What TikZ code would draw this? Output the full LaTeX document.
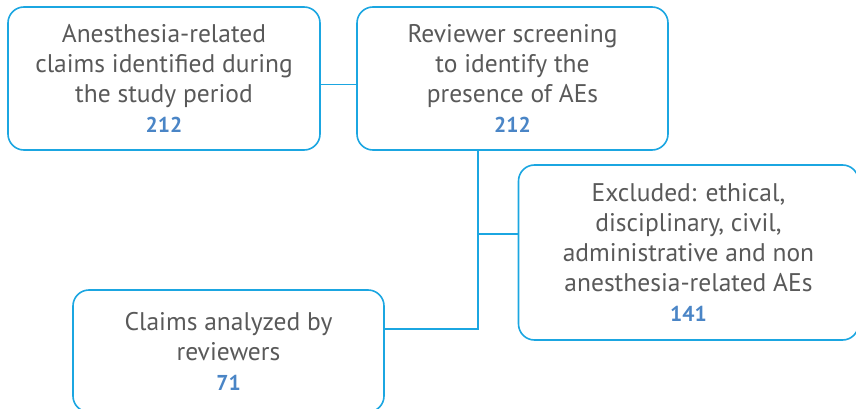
\documentclass[tikz,border=0pt]{standalone}
\usepackage{fontspec}
\setmainfont{PT Sans}
\usepackage{xcolor}
\usetikzlibrary{positioning}
\definecolor{boxline}{HTML}{1BA6E1}
\definecolor{txtgray}{HTML}{595959}
\definecolor{numblue}{HTML}{4A85C6}
\newcommand{\cnt}[1]{{\color{numblue}\bfseries\fontsize{21.5}{30}\selectfont #1}}

\begin{document}
\begin{tikzpicture}[x=1pt,y=-1pt,
        claimbox/.style={draw=boxline, line width=1.6pt, rounded corners=16pt,
            align=center, text=txtgray, inner sep=0pt,
            font=\fontsize{25.5}{30}\selectfont},
        link/.style={draw=boxline, line width=1.6pt}]
        \clip (0,0) rectangle (856,409);
        \useasboundingbox (0,0) rectangle (856,409);
        \node[claimbox, minimum width=312pt, minimum height=143pt] (claims) at (164,78.5)
            {Anesthesia-related\\claims identified during\\the study period\\\cnt{212}};
        \node[claimbox, minimum width=311pt, minimum height=143pt] (screen) at (512.5,78.5)
            {Reviewer screening\\to identify the\\presence of AEs\\\cnt{212}};
        \node[claimbox, minimum width=340pt, minimum height=175pt] (excluded) at (688.5,252.5)
            {Excluded: ethical,\\disciplinary, civil,\\administrative and non\\anesthesia-related AEs\\\cnt{141}};
        \node[claimbox, minimum width=311pt, minimum height=122pt] (analyzed) at (228.5,351)
            {Claims analyzed by\\reviewers\\\cnt{71}};
        \coordinate (trunk) at (478,0);
        \draw[link] ([yshift=-6pt]claims.east) -- ([yshift=-6pt]screen.west);
        \draw[link] (screen.south -| trunk) -- ([yshift=22pt]analyzed.east -| trunk) -- ([yshift=22pt]analyzed.east);
        \draw[link] ([yshift=18.5pt]excluded.west -| trunk) -- ([yshift=18.5pt]excluded.west);
\end{tikzpicture}
\end{document}
